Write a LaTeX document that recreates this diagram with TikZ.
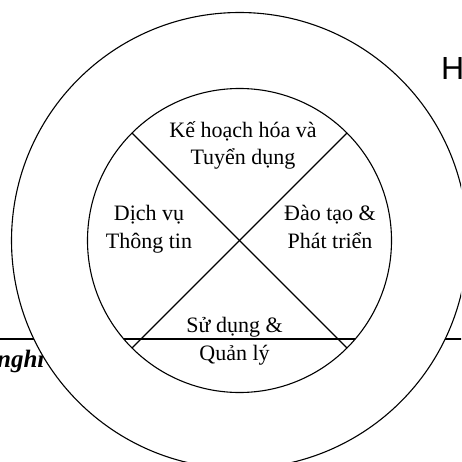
\documentclass[tikz,border=0pt]{standalone}
\usepackage{fontspec}
\setmainfont{Liberation Serif}
\newfontfamily\arialfont{Liberation Sans}
\usetikzlibrary{calc}
\tikzset{
  every picture/.style={line join=round, line cap=round},
  ring/.style={line width=1.1pt},
  label/.style={align=center, anchor=base, inner sep=0pt, font=\fontsize{22}{28}\selectfont},
}
\begin{document}
\begin{tikzpicture}[x=1pt,y=-1pt]
\clip(0,0)rectangle(461,462);
\coordinate(c)at(239.5,240.5);
\coordinate(l)at(0,339);
\coordinate(r)at(461,339);
\draw[ring](l)--(r);
\node[anchor=base west,inner sep=0pt,font=\fontsize{25}{30}\selectfont\bfseries\itshape](nghi)at(-3,367){nghi};
\node[anchor=base west,inner sep=0pt,font=\arialfont\fontsize{32}{38}\selectfont](h)at(441,80){H};
\draw[ring,fill=white](c)circle(228pt);
\draw[ring](c)circle(152pt);
\begin{scope}
\clip(c)circle(152pt);
\draw[ring](l)--(r);
\end{scope}
\draw[ring]($(c)+(135:152pt)$)--($(c)+(-45:152pt)$);
\draw[ring]($(c)+(45:152pt)$)--($(c)+(-135:152pt)$);
% anchor=base sits on the last line
\node[label](plan)at(243,165){Kế hoạch hóa và\\Tuyển dụng};
\node[label](info)at(149,248){Dịch vụ\\Thông tin};
\node[label](train)at(330,248){Đào tạo \&\\Phát triển};
\node[label](use)at(234.5,360){Sử dụng \&\\Quản lý};
\end{tikzpicture}
\end{document}
